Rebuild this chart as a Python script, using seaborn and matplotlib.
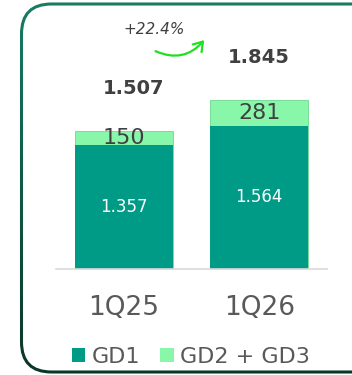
import matplotlib
matplotlib.use("Agg")
import matplotlib.pyplot as plt
from matplotlib.patches import FancyBboxPatch, FancyArrowPatch, Patch, Rectangle
from matplotlib.transforms import IdentityTransform
from matplotlib.colors import to_rgb
import numpy as np
import seaborn as sns
import pandas as pd

# Quarterly volumes split by group
quarters = ["1Q25", "1Q26"]
gd1 = [1357, 1564]
gd23 = [150, 281]
growth_label = "+22.4%"

C_GD1 = "#009B86"
C_GD23 = "#88F7AA"
C_TEXT = "#404040"
C_TICK = "#595959"

sns.set_theme(style="white")
plt.rcParams["font.family"] = ["DejaVu Sans"]

df = pd.DataFrame({"quarter": quarters, "gd1": gd1, "gd23": gd23})
df["total"] = df["gd1"] + df["gd23"]


def fmt(v):
    return f"{v:,}".replace(",", ".")


fig = plt.figure(figsize=(3.52, 3.75), dpi=100)
W, H = 352, 375
ax = fig.add_axes([56 / W, (H - 269) / H, 271 / W, 247 / H])

# stacked bars: total in light green, GD1 on top of it
sns.barplot(data=df, x="quarter", y="total", color=C_GD23, width=0.72,
            edgecolor="#6FD88F", linewidth=0.6, ax=ax, saturation=1)
sns.barplot(data=df, x="quarter", y="gd1", color=C_GD1, width=0.72,
            linewidth=0, ax=ax, saturation=1)

ax.set_xlim(-0.5, 1.5)
ax.set_ylim(0, 2700)
for s in ["top", "right", "left"]:
    ax.spines[s].set_visible(False)
ax.spines["bottom"].set_color("#D9D9D9")
ax.spines["bottom"].set_linewidth(1.2)
ax.set_yticks([])
ax.set_xlabel("")
ax.set_ylabel("")
ax.tick_params(axis="x", length=0, pad=19, labelsize=19, labelcolor=C_TICK)

for i, row in df.iterrows():
    ax.text(i, row["gd1"] / 2, fmt(row["gd1"]), ha="center", va="center",
            color="white", fontsize=12)
    ax.text(i, row["gd1"] + row["gd23"] / 2, fmt(row["gd23"]), ha="center",
            va="center", color=C_TEXT, fontsize=16)
    dx = 7 if i == 0 else 0
    ax.annotate(fmt(row["total"]), (i, row["total"]), xytext=(dx, 31),
                textcoords="offset points", ha="center", va="center",
                color=C_TEXT, fontsize=14, fontweight="bold")

# growth note with curved arrow
fig.text(154 / W, 1 - 30 / H, growth_label, ha="center", va="center",
         fontsize=11, style="italic", color=C_TEXT)
arrow = FancyArrowPatch((153, H - 50), (206, H - 38),
                        connectionstyle="arc3,rad=0.4",
                        arrowstyle="->,head_length=0.45,head_width=0.3",
                        mutation_scale=14, color="#1EE01E", lw=1.6,
                        transform=IdentityTransform())
fig.add_artist(arrow)

# rounded frame, shaded from teal at the top to dark green at the bottom
top_c = np.array(to_rgb("#187C64"))
bot_c = np.array(to_rgb("#0A3528"))
n_bands = 24
y0, y1 = 0, 376
edges = np.linspace(y0, y1, n_bands + 1)
for k in range(n_bands):
    t = (edges[k] + edges[k + 1]) / 2 / H
    col = bot_c + (top_c - bot_c) * t
    frame = FancyBboxPatch((21.5, 3), 400, 368,
                           boxstyle="round,pad=0,rounding_size=30",
                           fill=False, edgecolor=col, linewidth=2.2,
                           transform=IdentityTransform())
    clip = Rectangle((0, edges[k]), W + 10, edges[k + 1] - edges[k],
                     transform=IdentityTransform())
    frame.set_clip_path(clip)
    fig.add_artist(frame)

handles = [Patch(facecolor=C_GD1, edgecolor="none", label="GD1"),
           Patch(facecolor=C_GD23, edgecolor="none", label="GD2 + GD3")]
leg = fig.legend(handles=handles, loc="center", ncol=2,
                 bbox_to_anchor=(191 / W, 1 - 357 / H), frameon=False,
                 fontsize=16, handlelength=0.6, handleheight=0.6,
                 handletextpad=0.3, columnspacing=0.9, labelcolor=C_TICK,
                 borderpad=0, borderaxespad=0)

fig.savefig("out.png", dpi=100)
